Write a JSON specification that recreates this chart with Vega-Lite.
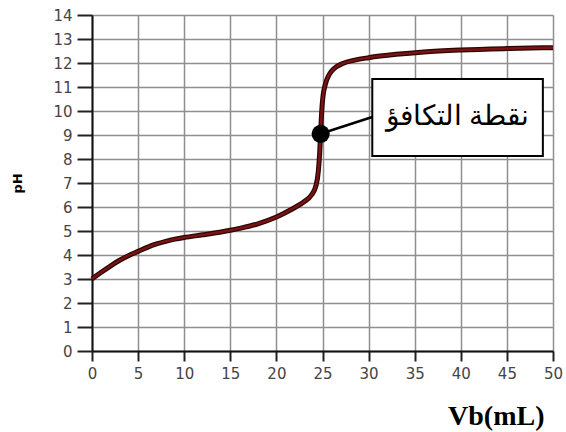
{
  "$schema": "https://vega.github.io/schema/vega-lite/v6.json",
  "width": 461,
  "height": 336,
  "autosize": "none",
  "padding": {"left": 92, "top": 15, "right": 13, "bottom": 81},
  "background": "white",
  "config": {"view": {"stroke": null}},
  "datasets": {
    "curve": [
      {"v": 0, "ph": 3.0}, {"v": 1, "ph": 3.28}, {"v": 2, "ph": 3.54}, {"v": 3, "ph": 3.78},
      {"v": 4, "ph": 3.98}, {"v": 5, "ph": 4.15}, {"v": 6, "ph": 4.32}, {"v": 7, "ph": 4.46},
      {"v": 8, "ph": 4.57}, {"v": 9, "ph": 4.66}, {"v": 10, "ph": 4.73}, {"v": 12, "ph": 4.84},
      {"v": 14, "ph": 4.96}, {"v": 15, "ph": 5.03}, {"v": 16, "ph": 5.11}, {"v": 18, "ph": 5.3},
      {"v": 20, "ph": 5.58}, {"v": 21, "ph": 5.77}, {"v": 22, "ph": 5.98}, {"v": 23, "ph": 6.22},
      {"v": 23.8, "ph": 6.5}, {"v": 24.3, "ph": 6.9}, {"v": 24.55, "ph": 7.5}, {"v": 24.7, "ph": 8.3},
      {"v": 24.8, "ph": 9.1}, {"v": 24.9, "ph": 9.9}, {"v": 25.05, "ph": 10.6}, {"v": 25.3, "ph": 11.1},
      {"v": 25.7, "ph": 11.5}, {"v": 26.3, "ph": 11.78}, {"v": 27.2, "ph": 11.98}, {"v": 28.5, "ph": 12.12},
      {"v": 30, "ph": 12.22}, {"v": 33, "ph": 12.36}, {"v": 36, "ph": 12.46}, {"v": 40, "ph": 12.54},
      {"v": 45, "ph": 12.6}, {"v": 50, "ph": 12.64}
    ],
    "eq": [{"v": 24.8, "ph": 9.05}],
    "leader": [{"v": 24.8, "ph": 9.05}, {"v": 30.4, "ph": 9.75}],
    "box": [{"v": 30.4, "v2": 48.9, "ph": 8.13, "ph2": 11.33, "xc": 39.65, "yc": 9.73, "label": "نقطة التكافؤ"}]
  },
  "encoding": {
    "x": {
      "field": "v", "type": "quantitative",
      "scale": {"domain": [0, 50], "nice": false},
      "axis": {
        "values": [0, 5, 10, 15, 20, 25, 30, 35, 40, 45, 50],
        "title": "Vb(mL)",
        "titleFont": "Liberation Serif", "titleFontSize": 28, "titleFontWeight": "bold", "titleColor": "black",
        "titleAnchor": "end", "titleAlign": "right", "titleX": 452, "titleBaseline": "alphabetic", "titleY": 73,
        "labelFont": "DejaVu Sans", "labelFontSize": 15, "labelColor": "#444", "labelPadding": 5,
        "labelFlush": false, "labelOverlap": false,
        "tickSize": 10, "tickColor": "#222", "tickWidth": 2,
        "domainColor": "#111", "domainWidth": 2,
        "grid": true, "gridColor": "#8f8f8f", "gridWidth": 1.5
      }
    },
    "y": {
      "field": "ph", "type": "quantitative",
      "scale": {"domain": [0, 14], "nice": false},
      "axis": {
        "values": [0, 1, 2, 3, 4, 5, 6, 7, 8, 9, 10, 11, 12, 13, 14],
        "title": "pH",
        "titleFont": "DejaVu Sans", "titleFontSize": 13, "titleFontWeight": "bold", "titleColor": "black",
        "titlePadding": 28,
        "labelFont": "DejaVu Sans", "labelFontSize": 15, "labelColor": "#444", "labelPadding": 5,
        "labelFlush": false, "labelOverlap": false,
        "tickSize": 15, "tickColor": "#222", "tickWidth": 2,
        "domainColor": "#111", "domainWidth": 2,
        "grid": true, "gridColor": "#8f8f8f", "gridWidth": 1.5
      }
    }
  },
  "layer": [
    {
      "data": {"name": "curve"},
      "mark": {"type": "line", "color": "#2a0505", "strokeWidth": 5, "interpolate": "monotone"}
    },
    {
      "data": {"name": "curve"},
      "mark": {"type": "line", "color": "#7a1414", "strokeWidth": 2.5, "interpolate": "monotone"}
    },
    {
      "data": {"name": "leader"},
      "mark": {"type": "line", "color": "black", "strokeWidth": 2.5}
    },
    {
      "data": {"name": "eq"},
      "mark": {"type": "point", "shape": "circle", "filled": true, "color": "black", "size": 330, "opacity": 1}
    },
    {
      "data": {"name": "box"},
      "mark": {"type": "rect", "fill": "white", "stroke": "black", "strokeWidth": 2},
      "encoding": {
        "x2": {"field": "v2"},
        "y2": {"field": "ph2"}
      }
    },
    {
      "data": {"name": "box"},
      "mark": {"type": "text", "font": "Liberation Serif", "fontSize": 28, "color": "black", "align": "center", "baseline": "middle"},
      "encoding": {
        "x": {"field": "xc", "type": "quantitative"},
        "y": {"field": "yc", "type": "quantitative"},
        "text": {"field": "label"}
      }
    }
  ]
}
